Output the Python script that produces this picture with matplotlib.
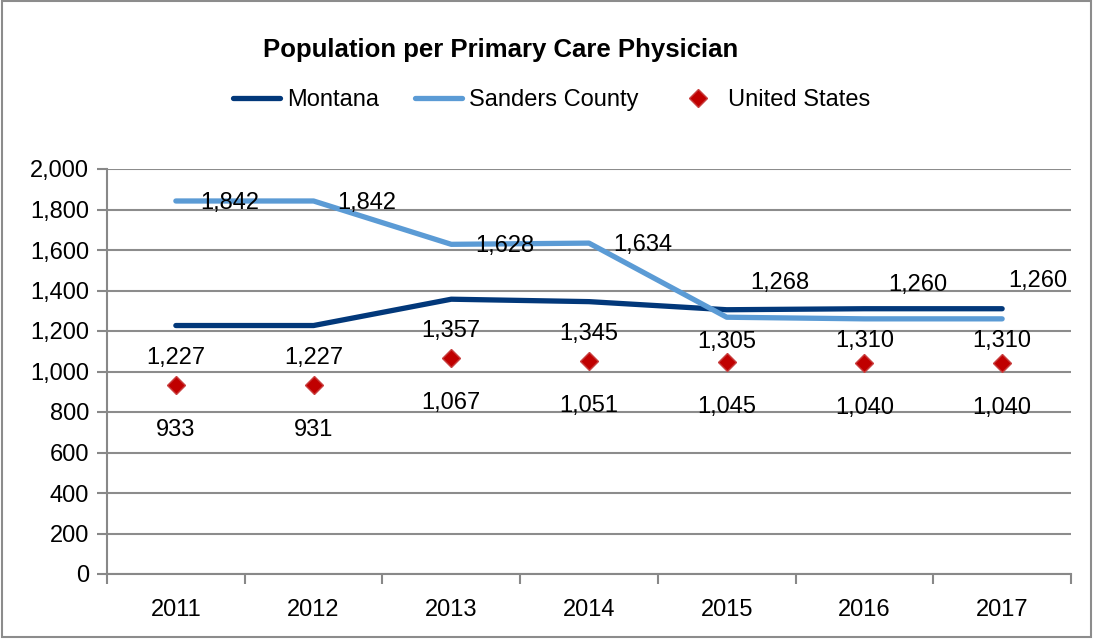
import numpy as np
import matplotlib.pyplot as plt
from matplotlib.patches import Rectangle
from matplotlib.ticker import FuncFormatter

plt.rcParams['font.family'] = ['Liberation Sans', 'DejaVu Sans']

years = ['2011', '2012', '2013', '2014', '2015', '2016', '2017']
montana = [1227, 1227, 1357, 1345, 1305, 1310, 1310]
sanders = [1842, 1842, 1628, 1634, 1268, 1260, 1260]
us = [933, 931, 1067, 1051, 1045, 1040, 1040]

# label offsets in pixels (layout only)
sanders_dx = [24, 24, 24, 24, 24, 24, 6]
sanders_dy = [-2, -2, -2, -2, 34, 34, 38]

x = np.arange(len(years))

fig = plt.figure(figsize=(10.93, 6.40), dpi=100)
ax = fig.add_axes([107 / 1093, 1 - 574 / 640, (1071 - 107) / 1093, (574 - 169) / 640])

ax.plot(x, montana, color='#02387A', lw=3.8, label='Montana', solid_capstyle='round', zorder=3)
ax.plot(x, sanders, color='#5B9BD5', lw=3.8, label='Sanders County', solid_capstyle='round', zorder=3)
ax.plot(x, us, linestyle='none', marker='D', ms=9, color='#C00000', mec='#C84040',
        label='United States', zorder=4)

fmt = lambda v: f'{v:,}'
for i in x:
    ax.annotate(fmt(montana[i]), (i, montana[i]), xytext=(0, -32), textcoords='offset pixels',
                ha='center', va='center', fontsize=17)
    ax.annotate(fmt(sanders[i]), (i, sanders[i]), xytext=(sanders_dx[i], sanders_dy[i]),
                textcoords='offset pixels', ha='left', va='center', fontsize=17)
    ax.annotate(fmt(us[i]), (i, us[i]), xytext=(0, -45), textcoords='offset pixels',
                ha='center', va='center', fontsize=17)

ax.set_xlim(-0.5, len(years) - 0.5)
ax.set_ylim(0, 2000)
ax.set_yticks(np.arange(0, 2001, 200))
ax.yaxis.set_major_formatter(FuncFormatter(lambda v, p: f'{int(v):,}'))
ax.set_xticks(x)
ax.set_xticklabels(years)
ax.set_xticks(np.arange(-0.5, len(years), 1), minor=True)
ax.tick_params(axis='x', which='major', length=0, pad=18, labelsize=17)
ax.tick_params(axis='x', which='minor', length=7, width=1.5, color='#888888', direction='out')
ax.tick_params(axis='y', length=7, width=1.5, color='#888888', pad=6, labelsize=17)

ax.grid(axis='y', color='#8C8C8C', lw=1.5)
ax.set_axisbelow(True)
for s in ['top', 'right']:
    ax.spines[s].set_visible(False)
for s in ['left', 'bottom']:
    ax.spines[s].set_color('#888888')
    ax.spines[s].set_linewidth(1.5)

fig.text(0.458, 1 - 50 / 640, 'Population per Primary Care Physician', ha='center', va='center',
         fontsize=18.5, fontweight='bold')
fig.legend(loc='center', bbox_to_anchor=(0.505, 1 - 100 / 640), ncol=3, frameon=False,
           fontsize=17, handlelength=2.0, columnspacing=1.5, handletextpad=0.3)

fig.patches.append(Rectangle((0.002, 0.004), 0.996, 0.994, transform=fig.transFigure,
                             fill=False, edgecolor='#8C8C8C', lw=1.5))

fig.savefig('out.png', dpi=100)
